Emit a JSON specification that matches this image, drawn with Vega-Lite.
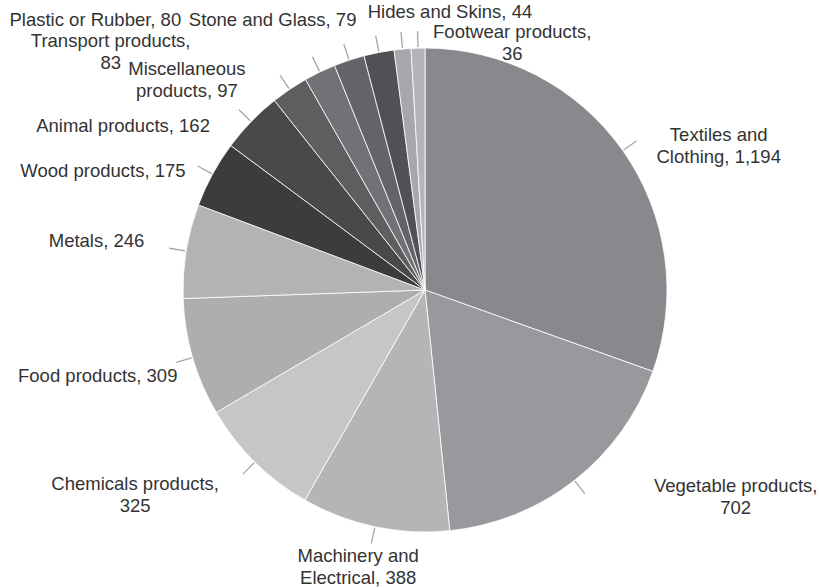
{
  "$schema": "https://vega.github.io/schema/vega-lite/v6.json",
  "width": 796,
  "height": 580,
  "autosize": {"type": "none"},
  "padding": {"left": 27, "top": 0, "right": 0, "bottom": 8},
  "background": "white",
  "config": {"view": {"stroke": null}},
  "data": {
    "values": [
      {"category": "Textiles and Clothing", "value": 1194, "label": "Textiles and\nClothing, 1,194"},
      {"category": "Vegetable products", "value": 702, "label": "Vegetable products,\n702"},
      {"category": "Machinery and Electrical", "value": 388, "label": "Machinery and\nElectrical, 388"},
      {"category": "Chemicals products", "value": 325, "label": "Chemicals products,\n325"},
      {"category": "Food products", "value": 309, "label": "Food products, 309"},
      {"category": "Metals", "value": 246, "label": "Metals, 246"},
      {"category": "Wood products", "value": 175, "label": "Wood products, 175"},
      {"category": "Animal products", "value": 162, "label": "Animal products, 162"},
      {"category": "Miscellaneous products", "value": 97, "label": "Miscellaneous\nproducts, 97"},
      {"category": "Transport products", "value": 83, "label": "Transport products,\n83"},
      {"category": "Plastic or Rubber", "value": 80, "label": "Plastic or Rubber, 80"},
      {"category": "Stone and Glass", "value": 79, "label": "Stone and Glass, 79"},
      {"category": "Hides and Skins", "value": 44, "label": "Hides and Skins, 44"},
      {"category": "Footwear products", "value": 36, "label": "Footwear products,\n36"}
    ]
  },
  "encoding": {
    "theta": {"field": "value", "type": "quantitative", "stack": true},
    "order": {"field": "value", "type": "quantitative", "sort": "descending"}
  },
  "layer": [
    {
      "mark": {"type": "arc", "outerRadius": 242, "stroke": "#ffffff", "strokeWidth": 0.8},
      "encoding": {
        "color": {
          "field": "category",
          "type": "nominal",
          "legend": null,
          "scale": {
            "domain": ["Textiles and Clothing", "Vegetable products", "Machinery and Electrical", "Chemicals products", "Food products", "Metals", "Wood products", "Animal products", "Miscellaneous products", "Transport products", "Plastic or Rubber", "Stone and Glass", "Hides and Skins", "Footwear products"],
            "range": ["#88898c", "#98999c", "#b4b5b7", "#c5c6c8", "#adaeb0", "#b2b3b5", "#3c3c3d", "#48494b", "#5d5e60", "#717275", "#636467", "#505154", "#a7a8ab", "#b4b5b8"]
          }
        }
      }
    },
    {
      "mark": {"type": "arc", "outerRadius": 259, "innerRadius": 243, "padAngle": 3, "fill": "transparent", "stroke": "#a6a6a6", "strokeWidth": 1.3},
      "encoding": {"detail": {"field": "category"}}
    },
    {
      "mark": {"type": "text", "radius": 270, "dx": 73, "dy": 1, "align": "center", "baseline": "middle", "lineBreak": "\n", "font": "Liberation Sans", "fontSize": 18.5, "lineHeight": 22, "color": "#333333"},
      "encoding": {"detail": {"field": "category"}, "text": {"condition": {"test": "datum.category === 'Textiles and Clothing'", "field": "label"}, "value": ""}}
    },
    {
      "mark": {"type": "text", "radius": 270, "dx": 144, "dy": -16, "align": "center", "baseline": "middle", "lineBreak": "\n", "font": "Liberation Sans", "fontSize": 18.5, "lineHeight": 22, "color": "#333333"},
      "encoding": {"detail": {"field": "category"}, "text": {"condition": {"test": "datum.category === 'Vegetable products'", "field": "label"}, "value": ""}}
    },
    {
      "mark": {"type": "text", "radius": 270, "dx": -11, "dy": 2, "align": "center", "baseline": "middle", "lineBreak": "\n", "font": "Liberation Sans", "fontSize": 18.5, "lineHeight": 22, "color": "#333333"},
      "encoding": {"detail": {"field": "category"}, "text": {"condition": {"test": "datum.category === 'Machinery and Electrical'", "field": "label"}, "value": ""}}
    },
    {
      "mark": {"type": "text", "radius": 270, "dx": -100, "dy": 2, "align": "center", "baseline": "middle", "lineBreak": "\n", "font": "Liberation Sans", "fontSize": 18.5, "lineHeight": 22, "color": "#333333"},
      "encoding": {"detail": {"field": "category"}, "text": {"condition": {"test": "datum.category === 'Chemicals products'", "field": "label"}, "value": ""}}
    },
    {
      "mark": {"type": "text", "radius": 270, "dx": -68, "dy": 11, "align": "center", "baseline": "middle", "lineBreak": "\n", "font": "Liberation Sans", "fontSize": 18.5, "lineHeight": 22, "color": "#333333"},
      "encoding": {"detail": {"field": "category"}, "text": {"condition": {"test": "datum.category === 'Food products'", "field": "label"}, "value": ""}}
    },
    {
      "mark": {"type": "text", "radius": 270, "dx": -62, "dy": -5, "align": "center", "baseline": "middle", "lineBreak": "\n", "font": "Liberation Sans", "fontSize": 18.5, "lineHeight": 22, "color": "#333333"},
      "encoding": {"detail": {"field": "category"}, "text": {"condition": {"test": "datum.category === 'Metals'", "field": "label"}, "value": ""}}
    },
    {
      "mark": {"type": "text", "radius": 270, "dx": -85, "dy": 10, "align": "center", "baseline": "middle", "lineBreak": "\n", "font": "Liberation Sans", "fontSize": 18.5, "lineHeight": 22, "color": "#333333"},
      "encoding": {"detail": {"field": "category"}, "text": {"condition": {"test": "datum.category === 'Wood products'", "field": "label"}, "value": ""}}
    },
    {
      "mark": {"type": "text", "radius": 270, "dx": -108, "dy": 24, "align": "center", "baseline": "middle", "lineBreak": "\n", "font": "Liberation Sans", "fontSize": 18.5, "lineHeight": 22, "color": "#333333"},
      "encoding": {"detail": {"field": "category"}, "text": {"condition": {"test": "datum.category === 'Animal products'", "field": "label"}, "value": ""}}
    },
    {
      "mark": {"type": "text", "radius": 270, "dx": -87, "dy": 3, "align": "center", "baseline": "middle", "lineBreak": "\n", "font": "Liberation Sans", "fontSize": 18.5, "lineHeight": 22, "color": "#333333"},
      "encoding": {"detail": {"field": "category"}, "text": {"condition": {"test": "datum.category === 'Miscellaneous products'", "field": "label"}, "value": ""}}
    },
    {
      "mark": {"type": "text", "radius": 270, "dx": -197, "dy": -6, "align": "center", "baseline": "middle", "lineBreak": "\n", "font": "Liberation Sans", "fontSize": 18.5, "lineHeight": 22, "color": "#333333"},
      "encoding": {"detail": {"field": "category"}, "text": {"condition": {"test": "datum.category === 'Transport products'", "field": "label"}, "value": ""}}
    },
    {
      "mark": {"type": "text", "radius": 270, "dx": -245, "dy": -14, "align": "center", "baseline": "middle", "lineBreak": "\n", "font": "Liberation Sans", "fontSize": 18.5, "lineHeight": 22, "color": "#333333"},
      "encoding": {"detail": {"field": "category"}, "text": {"condition": {"test": "datum.category === 'Plastic or Rubber'", "field": "label"}, "value": ""}}
    },
    {
      "mark": {"type": "text", "radius": 270, "dx": -101, "dy": -5, "align": "center", "baseline": "middle", "lineBreak": "\n", "font": "Liberation Sans", "fontSize": 18.5, "lineHeight": 22, "color": "#333333"},
      "encoding": {"detail": {"field": "category"}, "text": {"condition": {"test": "datum.category === 'Stone and Glass'", "field": "label"}, "value": ""}}
    },
    {
      "mark": {"type": "text", "radius": 270, "dx": 50, "dy": -9, "align": "center", "baseline": "middle", "lineBreak": "\n", "font": "Liberation Sans", "fontSize": 18.5, "lineHeight": 22, "color": "#333333"},
      "encoding": {"detail": {"field": "category"}, "text": {"condition": {"test": "datum.category === 'Hides and Skins'", "field": "label"}, "value": ""}}
    },
    {
      "mark": {"type": "text", "radius": 270, "dx": 95, "dy": 12, "align": "center", "baseline": "middle", "lineBreak": "\n", "font": "Liberation Sans", "fontSize": 18.5, "lineHeight": 22, "color": "#333333"},
      "encoding": {"detail": {"field": "category"}, "text": {"condition": {"test": "datum.category === 'Footwear products'", "field": "label"}, "value": ""}}
    }
  ]
}
